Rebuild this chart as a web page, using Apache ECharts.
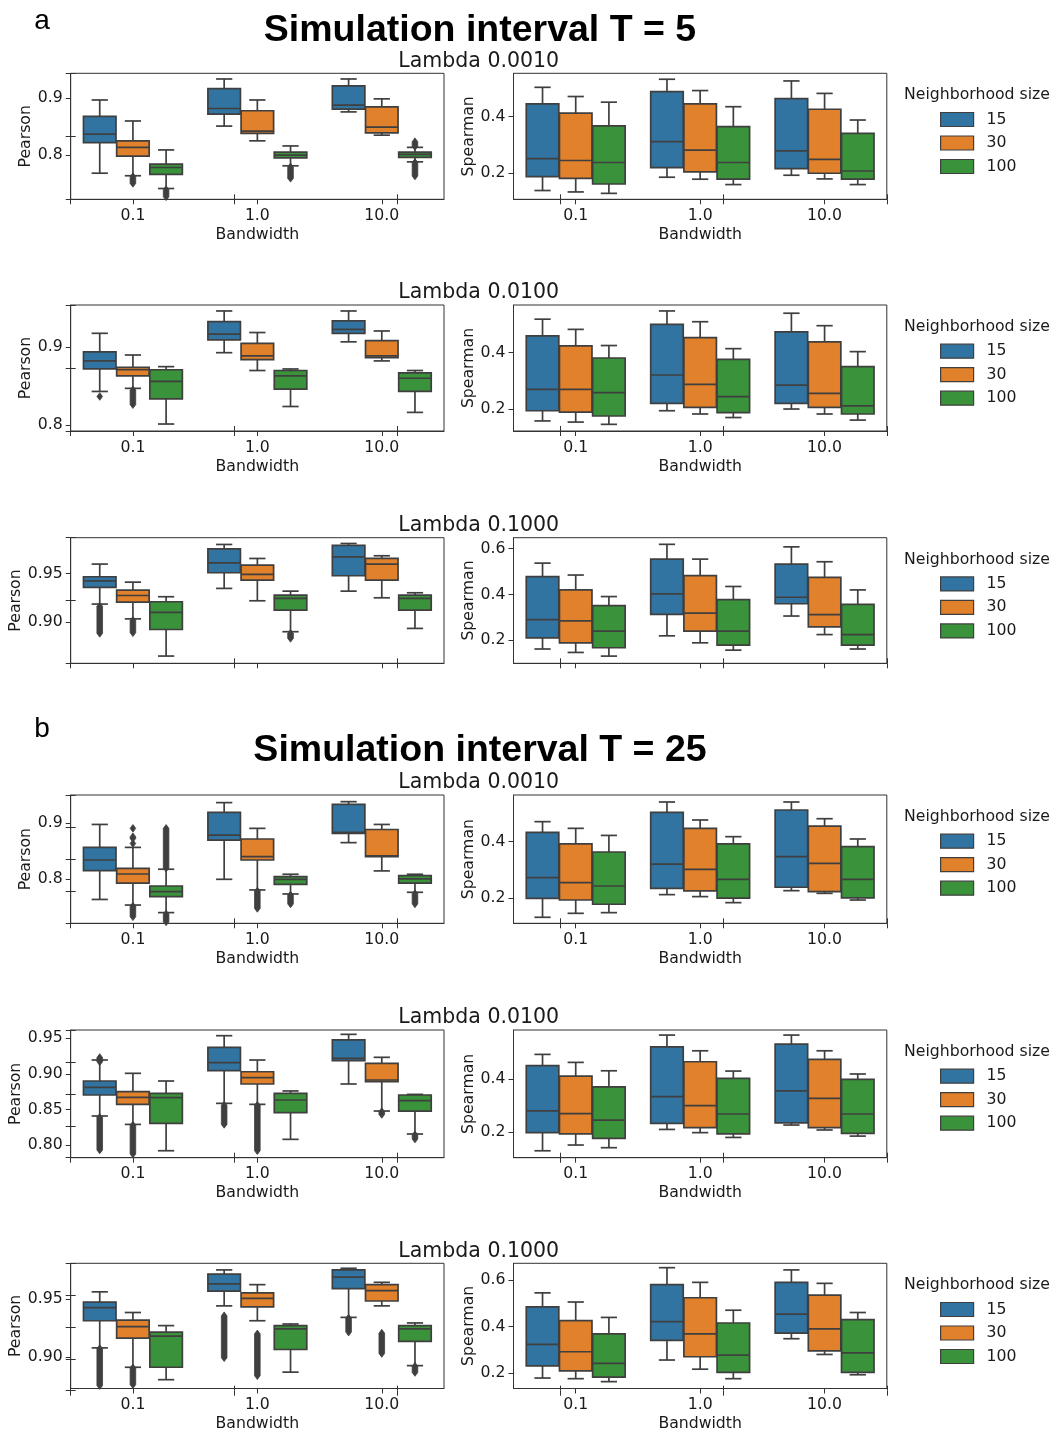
<!DOCTYPE html>
<html>
<head>
<meta charset="utf-8">
<script src="https://cdn.jsdelivr.net/npm/echarts@6/dist/echarts.min.js"></script>
<style>
  html, body { margin: 0; padding: 0; background: #ffffff; }
  #chart { width: 1054px; height: 1433px; }
</style>
</head>
<body>
<div id="chart"></div>
<script>
// ---------------- DATA ----------------
const bandwidths = ['0.1', '1.0', '10.0'];
const neighborhoodSizes = ['15', '30', '100'];

// Each panel: [hue 15, hue 30, hue 100]; each hue: per bandwidth [whiskerLow, Q1, median, Q3, whiskerHigh]
const T5_L0010_Pearson = [
  [[0.768, 0.822, 0.837, 0.868, 0.897], [0.851, 0.872, 0.882, 0.917, 0.934], [0.876, 0.881, 0.888, 0.922, 0.934]],
  [[0.7635, 0.798, 0.8135, 0.825, 0.860], [0.825, 0.838, 0.842, 0.878, 0.897], [0.835, 0.839, 0.849, 0.885, 0.899]],
  [[0.741, 0.766, 0.778, 0.784, 0.809], [0.781, 0.795, 0.800, 0.805, 0.816], [0.788, 0.796, 0.801, 0.805, 0.8135]]
];
const T5_L0010_Pearson_out = [
  [[], [], []],
  [[[0.750, 0.762]], [], []],
  [[[0.7265, 0.739]], [[0.759, 0.779]], [[0.763, 0.787], [0.815, 0.8235]]]
];
const T5_L0010_Spearman = [
  [[0.139, 0.188, 0.252, 0.445, 0.5035], [0.186, 0.220, 0.312, 0.488, 0.532], [0.193, 0.2165, 0.279, 0.4635, 0.526]],
  [[0.134, 0.182, 0.245, 0.412, 0.471], [0.179, 0.205, 0.282, 0.445, 0.492], [0.180, 0.200, 0.249, 0.426, 0.482]],
  [[0.129, 0.162, 0.238, 0.367, 0.451], [0.160, 0.179, 0.238, 0.365, 0.435], [0.160, 0.179, 0.208, 0.341, 0.388]]
];

const T5_L0100_Pearson = [
  [[0.843, 0.872, 0.8824, 0.894, 0.918], [0.893, 0.9094, 0.917, 0.933, 0.9468], [0.907, 0.918, 0.923, 0.934, 0.9468]],
  [[0.847, 0.863, 0.871, 0.874, 0.890], [0.870, 0.884, 0.889, 0.905, 0.919], [0.8824, 0.8867, 0.889, 0.9086, 0.921]],
  [[0.801, 0.8335, 0.856, 0.871, 0.875], [0.8236, 0.846, 0.863, 0.870, 0.872], [0.816, 0.843, 0.860, 0.867, 0.870]]
];
const T5_L0100_Pearson_out = [
  [[[0.8365, 0.8365]], [], []],
  [[[0.826, 0.845]], [], []],
  [[], [], []]
];
const T5_L0100_Spearman = [
  [[0.159, 0.195, 0.2706, 0.459, 0.518], [0.195, 0.221, 0.321, 0.500, 0.547], [0.201, 0.221, 0.285, 0.473, 0.539]],
  [[0.155, 0.190, 0.2706, 0.4235, 0.482], [0.1835, 0.207, 0.288, 0.453, 0.509], [0.1835, 0.207, 0.2565, 0.438, 0.495]],
  [[0.147, 0.1765, 0.259, 0.381, 0.425], [0.171, 0.188, 0.245, 0.3765, 0.414], [0.162, 0.1835, 0.212, 0.3506, 0.4035]]
];

const T5_L1000_Pearson = [
  [[0.9183, 0.9355, 0.9424, 0.9466, 0.9597], [0.9345, 0.9507, 0.961, 0.9755, 0.980], [0.9317, 0.9476, 0.9672, 0.979, 0.981]],
  [[0.903, 0.9203, 0.9272, 0.9328, 0.941], [0.9217, 0.9431, 0.949, 0.9586, 0.9655], [0.9248, 0.9431, 0.9597, 0.9655, 0.9683]],
  [[0.8645, 0.892, 0.9097, 0.9207, 0.9259], [0.8897, 0.9121, 0.9241, 0.9276, 0.9317], [0.8931, 0.9121, 0.9241, 0.9276, 0.930]]
];
const T5_L1000_Pearson_out = [
  [[[0.888, 0.916]], [], []],
  [[[0.8886, 0.9015]], [], []],
  [[], [[0.8828, 0.888]], []]
];
const T5_L1000_Spearman = [
  [[0.162, 0.211, 0.290, 0.478, 0.537], [0.2195, 0.313, 0.403, 0.5545, 0.619], [0.306, 0.3596, 0.388, 0.533, 0.608]],
  [[0.147, 0.189, 0.2845, 0.420, 0.485], [0.189, 0.240, 0.319, 0.482, 0.5545], [0.225, 0.2585, 0.312, 0.475, 0.543]],
  [[0.131, 0.1675, 0.240, 0.351, 0.391], [0.157, 0.179, 0.240, 0.378, 0.435], [0.162, 0.179, 0.225, 0.3567, 0.420]]
];

const T25_L0010_Pearson = [
  [[0.764, 0.8155, 0.8345, 0.857, 0.898], [0.800, 0.870, 0.879, 0.9196, 0.937], [0.8655, 0.882, 0.884, 0.934, 0.9387]],
  [[0.754, 0.793, 0.8095, 0.8196, 0.857], [0.781, 0.8345, 0.8405, 0.872, 0.891], [0.815, 0.8405, 0.8417, 0.889, 0.898]],
  [[0.7405, 0.769, 0.778, 0.788, 0.818], [0.7738, 0.791, 0.800, 0.8048, 0.809], [0.7768, 0.793, 0.8006, 0.8065, 0.809]]
];
const T25_L0010_Pearson_out = [
  [[], [], []],
  [[[0.733, 0.752], [0.864, 0.864], [0.873, 0.876], [0.891, 0.891]], [[0.748, 0.779]], []],
  [[[0.724, 0.738], [0.820, 0.891]], [[0.756, 0.772]], [[0.756, 0.7745]]]
];
const T25_L0010_Spearman = [
  [[0.133, 0.200, 0.273, 0.433, 0.4706], [0.213, 0.2353, 0.321, 0.5035, 0.540], [0.227, 0.239, 0.347, 0.5118, 0.540]],
  [[0.147, 0.194, 0.2553, 0.392, 0.447], [0.206, 0.226, 0.302, 0.447, 0.4765], [0.2176, 0.2235, 0.3235, 0.455, 0.481]],
  [[0.1494, 0.179, 0.2435, 0.3635, 0.422], [0.1847, 0.201, 0.267, 0.392, 0.4176], [0.194, 0.2012, 0.267, 0.3824, 0.4094]]
];

const T25_L0100_Pearson = [
  [[0.8408, 0.8703, 0.8811, 0.890, 0.9195], [0.8586, 0.9045, 0.9158, 0.9373, 0.9537], [0.8858, 0.9186, 0.9219, 0.9477, 0.9556]],
  [[0.829, 0.8572, 0.867, 0.875, 0.9008], [0.8572, 0.8858, 0.8947, 0.903, 0.9195], [0.8478, 0.889, 0.8914, 0.9148, 0.9233]],
  [[0.792, 0.8305, 0.8666, 0.8727, 0.890], [0.808, 0.8455, 0.8633, 0.8727, 0.876], [0.8155, 0.8478, 0.8623, 0.8703, 0.8712]]
];
const T25_L0100_Pearson_out = [
  [[[0.793, 0.839], [0.917, 0.923]], [[0.829, 0.856]], []],
  [[[0.7873, 0.828]], [[0.792, 0.856]], [[0.843, 0.847]]],
  [[], [], [[0.8084, 0.8145]]]
];
const T25_L0100_Spearman = [
  [[0.131, 0.199, 0.281, 0.450, 0.4925], [0.211, 0.234, 0.334, 0.521, 0.565], [0.2275, 0.236, 0.356, 0.531, 0.565]],
  [[0.1525, 0.194, 0.270, 0.411, 0.4625], [0.199, 0.2175, 0.300, 0.465, 0.506], [0.209, 0.2175, 0.3275, 0.474, 0.506]],
  [[0.1425, 0.1775, 0.246, 0.371, 0.431], [0.181, 0.194, 0.269, 0.4025, 0.430], [0.186, 0.196, 0.269, 0.399, 0.419]]
];

const T25_L1000_Pearson = [
  [[0.9082, 0.9316, 0.9429, 0.9477, 0.9565], [0.9444, 0.9571, 0.9633, 0.9718, 0.9754], [0.9345, 0.9593, 0.9692, 0.9754, 0.9768]],
  [[0.8915, 0.9167, 0.9266, 0.9322, 0.9387], [0.9316, 0.9435, 0.9508, 0.9556, 0.9627], [0.9444, 0.9486, 0.9576, 0.9627, 0.9647]],
  [[0.8808, 0.8915, 0.9184, 0.9218, 0.9274], [0.8873, 0.9068, 0.9246, 0.9274, 0.9288], [0.8929, 0.9138, 0.9246, 0.9274, 0.9297]]
];
const T25_L1000_Pearson_out = [
  [[[0.8757, 0.9076]], [[0.8997, 0.9359]], [[0.9218, 0.9339]]],
  [[[0.8765, 0.891]], [[0.8842, 0.9203]], [[0.9034, 0.9209]]],
  [[], [], [[0.887, 0.8924]]]
];
const T25_L1000_Spearman = [
  [[0.1773, 0.230, 0.3234, 0.485, 0.546], [0.2553, 0.3404, 0.4213, 0.5816, 0.655], [0.3475, 0.3716, 0.4539, 0.5915, 0.6454]],
  [[0.1745, 0.2085, 0.291, 0.4255, 0.5064], [0.2156, 0.2695, 0.3688, 0.5248, 0.5915], [0.2794, 0.295, 0.390, 0.5362, 0.5872]],
  [[0.1617, 0.1816, 0.2411, 0.3688, 0.4397], [0.1745, 0.2014, 0.2766, 0.4156, 0.4709], [0.1915, 0.2014, 0.2865, 0.4298, 0.461]]
];

const NO_OUT = [[[], [], []], [[], [], []], [[], [], []]];

// tick labels per panel
const ticks_T5_L0010_P = [0.8, 0.9];
const ticks_T5_L0010_S = [0.2, 0.4];
const ticks_T5_L0100_P = [0.8, 0.9];
const ticks_T5_L0100_S = [0.2, 0.4];
const ticks_T5_L1000_P = [0.90, 0.95];
const ticks_T5_L1000_S = [0.2, 0.4, 0.6];
const ticks_T25_L0010_P = [0.8, 0.9];
const ticks_T25_L0010_S = [0.2, 0.4];
const ticks_T25_L0100_P = [0.80, 0.85, 0.90, 0.95];
const ticks_T25_L0100_S = [0.2, 0.4];
const ticks_T25_L1000_P = [0.90, 0.95];
const ticks_T25_L1000_S = [0.2, 0.4, 0.6];

const lambdaTitles = ['Lambda 0.0010', 'Lambda 0.0100', 'Lambda 0.1000', 'Lambda 0.0010', 'Lambda 0.0100', 'Lambda 0.1000'];
const sectionTitles = ['Simulation interval T = 5', 'Simulation interval T = 25'];
const sectionLetters = ['a', 'b'];

// ---------------- LAYOUT / STYLE ----------------
const COLORS = ['#3274a1', '#e1812c', '#3a923a'];
const LINE = '#3f3f3f';
const AX = '#333333';
const TXT = '#1a1a1a';
const FONT = '"DejaVu Sans", sans-serif';
const FS = 15.7;

const rows = [
  { top: 73.3, h: 126, xlabels: true, overlayYStep: 0.5 },
  { top: 305, h: 126, xlabels: true, overlayYStep: 0.5 },
  { top: 537.7, h: 125.6, xlabels: false, overlayYStep: 0.5 },
  { top: 795, h: 128.3, xlabels: true, overlayYStep: 0.25 },
  { top: 1030, h: 127.7, xlabels: true, overlayYStep: 0.25 },
  { top: 1263.3, h: 127.4, xlabels: true, overlayYStep: 0.25 }
];
const LEFT_X = 70.7, RIGHT_X = 513.5, PW = 373.3;

const panels = [
  { row: 0, side: 0, data: T5_L0010_Pearson, out: T5_L0010_Pearson_out, min: 0.722, max: 0.944, ticks: ticks_T5_L0010_P, dec: 1, name: 'Pearson', gap: 37 },
  { row: 0, side: 1, data: T5_L0010_Spearman, out: NO_OUT, min: 0.108, max: 0.553, ticks: ticks_T5_L0010_S, dec: 1, name: 'Spearman', gap: 35 },
  { row: 1, side: 0, data: T5_L0100_Pearson, out: T5_L0100_Pearson_out, min: 0.792, max: 0.9545, ticks: ticks_T5_L0100_P, dec: 1, name: 'Pearson', gap: 37 },
  { row: 1, side: 1, data: T5_L0100_Spearman, out: NO_OUT, min: 0.1235, max: 0.568, ticks: ticks_T5_L0100_S, dec: 1, name: 'Spearman', gap: 35 },
  { row: 2, side: 0, data: T5_L1000_Pearson, out: T5_L1000_Pearson_out, min: 0.857, max: 0.987, ticks: ticks_T5_L1000_P, dec: 2, name: 'Pearson', gap: 46 },
  { row: 2, side: 1, data: T5_L1000_Spearman, out: NO_OUT, min: 0.0996, max: 0.648, ticks: ticks_T5_L1000_S, dec: 1, name: 'Spearman', gap: 35 },
  { row: 3, side: 0, data: T25_L0010_Pearson, out: T25_L0010_Pearson_out, min: 0.7214, max: 0.9506, ticks: ticks_T25_L0010_P, dec: 1, name: 'Pearson', gap: 37 },
  { row: 3, side: 1, data: T25_L0010_Spearman, out: NO_OUT, min: 0.1118, max: 0.5647, ticks: ticks_T25_L0010_S, dec: 1, name: 'Spearman', gap: 35 },
  { row: 4, side: 0, data: T25_L0100_Pearson, out: T25_L0100_Pearson_out, min: 0.7822, max: 0.9617, ticks: ticks_T25_L0100_P, dec: 2, name: 'Pearson', gap: 46 },
  { row: 4, side: 1, data: T25_L0100_Spearman, out: NO_OUT, min: 0.105, max: 0.584, ticks: ticks_T25_L0100_S, dec: 1, name: 'Spearman', gap: 35 },
  { row: 5, side: 0, data: T25_L1000_Pearson, out: T25_L1000_Pearson_out, min: 0.8732, max: 0.9811, ticks: ticks_T25_L1000_P, dec: 2, name: 'Pearson', gap: 46 },
  { row: 5, side: 1, data: T25_L1000_Spearman, out: NO_OUT, min: 0.132, max: 0.674, ticks: ticks_T25_L1000_S, dec: 1, name: 'Spearman', gap: 35 }
];

function boxRender(hueIdx, outs) {
  return function (params, api) {
    const ci = api.value(0);
    const band = api.size([1, 0])[0];
    const slot = band * 0.8 / 3;
    const w = slot * 0.98;
    const cx = api.coord([ci, api.value(3)])[0] + (hueIdx - 1) * slot;
    const yv = k => api.coord([ci, api.value(k)])[1];
    const yLo = yv(1), yQ1 = yv(2), yMed = yv(3), yQ3 = yv(4), yHi = yv(5);
    const st = { stroke: LINE, lineWidth: 1.7 };
    const children = [
      { type: 'line', shape: { x1: cx, y1: yQ3, x2: cx, y2: yHi }, style: st },
      { type: 'line', shape: { x1: cx, y1: yQ1, x2: cx, y2: yLo }, style: st },
      { type: 'line', shape: { x1: cx - w / 4, y1: yHi, x2: cx + w / 4, y2: yHi }, style: st },
      { type: 'line', shape: { x1: cx - w / 4, y1: yLo, x2: cx + w / 4, y2: yLo }, style: st },
      { type: 'rect', shape: { x: cx - w / 2, y: yQ3, width: w, height: yQ1 - yQ3 },
        style: { fill: COLORS[hueIdx], stroke: LINE, lineWidth: 1.7 } },
      { type: 'line', shape: { x1: cx - w / 2, y1: yMed, x2: cx + w / 2, y2: yMed }, style: st }
    ];
    const spans = (outs && outs[ci]) || [];
    spans.forEach(function (sp) {
      const a = api.coord([ci, sp[1]])[1];
      const b = api.coord([ci, sp[0]])[1];
      const hw = 2.8, hh = 3.8;
      children.push({
        type: 'polygon',
        shape: { points: [[cx, a - hh], [cx + hw, a], [cx + hw, b], [cx, b + hh], [cx - hw, b], [cx - hw, a]] },
        style: { fill: LINE, stroke: LINE, lineWidth: 0.8 }
      });
    });
    return { type: 'group', children: children };
  };
}

const grid = [], xAxis = [], yAxis = [], series = [], legend = [], graphic = [];

panels.forEach(function (p, i) {
  const r = rows[p.row];
  grid.push({
    left: p.side === 0 ? LEFT_X : RIGHT_X, top: r.top, width: PW, height: r.h,
    show: true, backgroundColor: '#ffffff', borderColor: AX, borderWidth: 1, containLabel: false
  });
  xAxis.push({
    type: 'category', gridIndex: i, data: bandwidths, position: 'bottom',
    axisLine: { show: true, lineStyle: { color: AX, width: 1 } },
    axisTick: { show: true, alignWithLabel: true, length: 5, lineStyle: { color: AX, width: 1 } },
    axisLabel: { show: r.xlabels, fontSize: FS, fontFamily: FONT, color: TXT, margin: 8.5 },
    name: r.xlabels ? 'Bandwidth' : '', nameLocation: 'middle', nameGap: 27.5,
    nameTextStyle: { fontSize: FS, fontFamily: FONT, color: TXT },
    splitLine: { show: false }
  });
  yAxis.push({
    type: 'value', gridIndex: i, min: p.min, max: p.max, position: 'left',
    axisLine: { show: true, lineStyle: { color: AX, width: 1 } },
    axisTick: { show: true, length: 5, customValues: p.ticks, lineStyle: { color: AX, width: 1 } },
    axisLabel: { show: true, customValues: p.ticks, fontSize: FS, fontFamily: FONT, color: TXT, margin: 8,
      formatter: (function (d) { return function (v) { return Number(v).toFixed(d); }; })(p.dec) },
    splitLine: { show: false },
    name: p.name, nameLocation: 'middle', nameGap: p.gap, nameRotate: 90,
    nameTextStyle: { fontSize: FS, fontFamily: FONT, color: TXT }
  });
  neighborhoodSizes.forEach(function (ns, h) {
    series.push({
      type: 'custom', name: ns, xAxisIndex: i, yAxisIndex: i,
      renderItem: boxRender(h, p.out[h]),
      encode: { x: 0, y: [1, 2, 3, 4, 5] },
      itemStyle: { color: COLORS[h] },
      data: p.data[h].map(function (v, ci) { return [ci].concat(v); }),
      z: 3, silent: true
    });
  });
});

// overlay axes spanning each row (frameless, ticks only)
rows.forEach(function (r, ri) {
  const gi = panels.length + ri;
  grid.push({ left: LEFT_X, top: r.top, width: RIGHT_X + PW - LEFT_X, height: r.h, show: false, containLabel: false });
  ['bottom', 'top'].forEach(function (pos) {
    xAxis.push({
      type: 'value', gridIndex: gi, min: 0, max: 1, interval: 0.2, position: pos,
      axisLine: { show: false }, axisLabel: { show: false }, splitLine: { show: false },
      axisTick: { show: true, length: 5, lineStyle: { color: AX, width: 1 } }
    });
  });
  ['left', 'right'].forEach(function (pos) {
    yAxis.push({
      type: 'value', gridIndex: gi, min: 0, max: 1, interval: r.overlayYStep, position: pos,
      axisLine: { show: false }, axisLabel: { show: false }, splitLine: { show: false },
      axisTick: { show: true, length: 5, lineStyle: { color: AX, width: 1 } }
    });
  });
  // Lambda title
  graphic.push({
    type: 'text', x: (LEFT_X + RIGHT_X + PW) / 2, y: r.top - 12,
    style: { text: lambdaTitles[ri], font: '20.5px ' + FONT, fill: TXT, textAlign: 'center', textVerticalAlign: 'middle' }
  });
  // legend title
  graphic.push({
    type: 'text', x: 977, y: r.top + 22,
    style: { text: 'Neighborhood size', font: FS + 'px ' + FONT, fill: TXT, textAlign: 'center', textVerticalAlign: 'middle' }
  });
  legend.push({
    orient: 'vertical', left: 940, top: r.top + 38.2, padding: 0,
    itemWidth: 33, itemHeight: 14, itemGap: 7.5, selectedMode: false, icon: 'rect',
    itemStyle: { borderColor: LINE, borderWidth: 1.2 },
    textStyle: { fontSize: FS, fontFamily: FONT, color: TXT, lineHeight: 14, padding: [0, 0, 0, 8] },
    data: neighborhoodSizes.map(function (n, h) { return { name: n, itemStyle: { color: COLORS[h], borderColor: LINE, borderWidth: 1.2 } }; })
  });
});

// section headers
[[21, 31], [729, 751]].forEach(function (pos, si) {
  graphic.push({
    type: 'text', x: 42, y: pos[0],
    style: { text: sectionLetters[si], font: '28px "Liberation Sans", Arial, sans-serif', fill: '#000', textAlign: 'center', textVerticalAlign: 'middle' }
  });
  graphic.push({
    type: 'text', x: 480, y: pos[1],
    style: { text: sectionTitles[si], font: 'bold 37.5px "Liberation Sans", Arial, sans-serif', fill: '#000', textAlign: 'center', textVerticalAlign: 'middle' }
  });
});

const chart = echarts.init(document.getElementById('chart'), null, { renderer: 'canvas' });
chart.setOption({
  backgroundColor: '#ffffff',
  animation: false,
  grid: grid, xAxis: xAxis, yAxis: yAxis, series: series, legend: legend, graphic: graphic
});
</script>
</body>
</html>
